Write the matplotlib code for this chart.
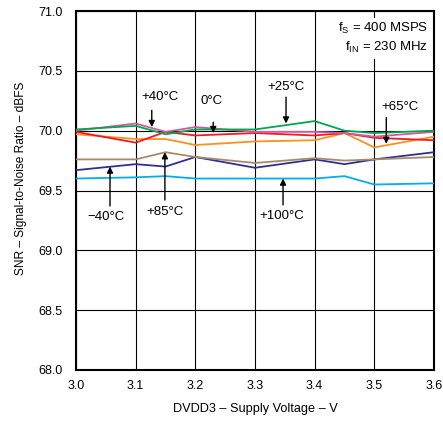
import matplotlib
matplotlib.use("Agg")
import matplotlib.pyplot as plt

plt.rcParams['font.family'] = ['Liberation Sans', 'DejaVu Sans']

volts = [3.0, 3.1, 3.15, 3.2, 3.3, 3.4, 3.45, 3.5, 3.6]
snr_25 = [70.01, 70.04, 69.97, 70.01, 70.01, 70.08, 70.00, 69.98, 70.00]
snr_40 = [70.00, 70.06, 69.99, 70.03, 69.99, 69.99, 69.98, 69.95, 69.99]
snr_65 = [69.99, 69.90, 69.99, 69.96, 69.98, 69.96, 69.98, 69.94, 69.92]
snr_0 = [69.97, 69.93, 69.93, 69.88, 69.91, 69.92, 69.98, 69.86, 69.95]
snr_85 = [69.76, 69.76, 69.82, 69.78, 69.73, 69.77, 69.75, 69.76, 69.78]
snr_m40 = [69.67, 69.72, 69.70, 69.78, 69.69, 69.76, 69.72, 69.76, 69.82]
snr_100 = [69.60, 69.61, 69.62, 69.60, 69.60, 69.60, 69.62, 69.55, 69.56]

xticks = [3.0, 3.1, 3.2, 3.3, 3.4, 3.5, 3.6]
yticks = [68.0, 68.5, 69.0, 69.5, 70.0, 70.5, 71.0]

W, H = 443, 422
fig = plt.figure(figsize=(W / 100, H / 100), dpi=100)
ax = fig.add_axes([76 / W, 1 - 370 / H, 358 / W, 359 / H])

series = [
    (snr_100, '#00aeef'),
    (snr_m40, '#2e3192'),
    (snr_85, '#a68b6b'),
    (snr_0, '#f7931e'),
    (snr_65, '#ed1c24'),
    (snr_40, '#d05aa0'),
    (snr_25, '#00a651'),
]
for vals, c in series:
    ax.plot(volts, vals, color=c, lw=1.3, zorder=3)

ax.set_xlim(3.0, 3.6)
ax.set_ylim(68.0, 71.0)
ax.set_xticks(xticks)
ax.set_yticks(yticks)
ax.set_xticklabels([f"{v:.1f}" for v in xticks])
ax.set_yticklabels([f"{v:.1f}" for v in yticks])
ax.grid(True, color='black', lw=0.8, zorder=1)
ax.tick_params(axis='x', length=0, labelsize=9, pad=7)
ax.tick_params(axis='y', length=0, labelsize=9, pad=9.5)
for s in ax.spines.values():
    s.set_linewidth(1.5)

fig.text(255 / W, 1 - 409 / H, "DVDD3 – Supply Voltage – V", fontsize=9.2,
         ha='center', va='center')
fig.text(21 / W, 1 - 178 / H, "SNR – Signal-to-Noise Ratio – dBFS", fontsize=8.6,
         ha='center', va='center', rotation=90)

ap = dict(arrowstyle='-|>', color='black', lw=1.0, mutation_scale=9,
          shrinkA=0, shrinkB=0)
def ann(text, textpos, x, y0, y1):
    ax.annotate("", xy=(x, y1), xytext=(x, y0), arrowprops=ap, zorder=5)
    ax.text(textpos[0], textpos[1], text, fontsize=9.5, ha='center',
            va='center', zorder=5)

ann("+40°C", (3.141, 70.28), 3.127, 70.17, 70.03)
ann("0°C", (3.228, 70.25), 3.230, 70.07, 69.98)
ann("+25°C", (3.352, 70.365), 3.352, 70.28, 70.06)
ann("+65°C", (3.543, 70.20), 3.520, 70.11, 69.89)
ann("−40°C", (3.050, 69.28), 3.057, 69.37, 69.70)
ann("+85°C", (3.149, 69.32), 3.149, 69.42, 69.82)
ann("+100°C", (3.344, 69.29), 3.347, 69.38, 69.60)

ax.text(0.983, 0.972, "f$_\\mathregular{S}$ = 400 MSPS\nf$_\\mathregular{IN}$ = 230 MHz",
        transform=ax.transAxes, ha='right', va='top', fontsize=9.5,
        linespacing=1.35,
        bbox=dict(facecolor='white', edgecolor='none', pad=2.5), zorder=6)

fig.savefig("out.png", dpi=100)
